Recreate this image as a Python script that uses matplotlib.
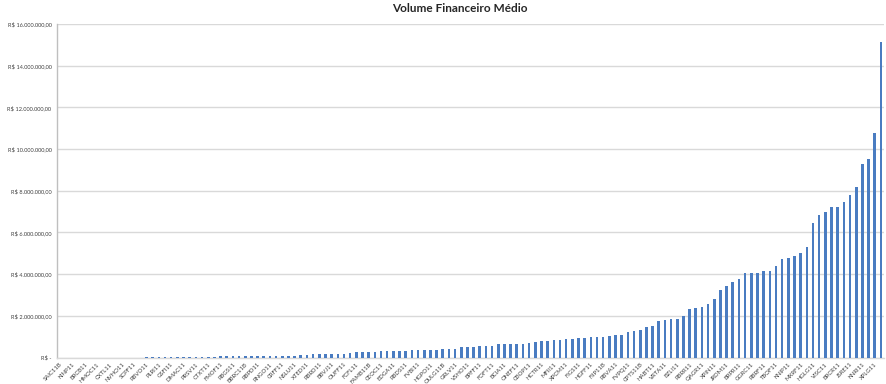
import matplotlib
matplotlib.use("Agg")
import matplotlib.pyplot as plt
from matplotlib.ticker import FuncFormatter, MultipleLocator
import numpy as np

# Visible (labelled) tickers, every second category
tickers_rotulados = [
    "SAIC11B", "KINP11", "BRCB11", "HMOC11", "CXTL11", "NVHO11", "SCPF11", "RBVO11",
    "PLRI11", "GSFI11", "DMAC11", "PRSV11", "CTXT11", "FMOF11", "RBGS11", "BBRC11B",
    "RBPD11", "RNGO11", "CRFF11", "NSLU11", "XTED11", "RBRD11", "BBVJ11", "OUFF11",
    "FCFL11", "FAMB11B", "CEOC11", "EDGA11", "RBDS11", "FVBI11", "HGPO11", "OULG11B",
    "GRLV11", "VSHO11", "BPFF11", "FOFT11", "BCIA11", "ONEF11", "CBOP11", "HCTR11",
    "MFII11", "XPCM11", "FIGS11", "HGFF11", "FIIP11B", "RBVA11", "FVPQ11", "CPTS11B",
    "HABT11", "VRTA11", "BZLI11", "RBRR11", "QAGR11", "XPIN11", "JRDM11", "BRPR11",
    "GGRC11", "RBRF11", "TBOF11", "KNIP11", "MXRF11", "HGLG11", "VISC11", "BRCR11",
    "JSRE11", "KNRI11", "XPLG11",
]
# Categories between them whose labels Excel skipped
tickers_ocultos = [
    "ABCP11", "AEFI11", "AFOF11", "AIEC11", "ALMI11", "ALZR11", "ARRI11", "ATSA11",
    "BARI11", "BBFI11B", "BBPO11", "BCFF11", "BCRI11", "BEES11", "BICR11", "BLMO11",
    "BMLC11", "BNFS11", "BPML11", "BRCO11", "BREV11", "BTAL11", "BTCR11", "BTLG11",
    "CARE11", "CNES11", "CPFF11", "CVBI11", "CXCE11B", "CXRI11", "DEVA11", "DOVL11",
    "EDFO11", "EURO11", "FEXC11", "FIIB11", "FINF11", "FIVN11", "FLMA11", "FLRP11",
    "FPAB11", "GALG11", "GCRA11", "GTWR11", "HBTT11", "HCRI11", "HFOF11", "HLOG11",
    "HOSI11", "HRDF11", "HSML11", "HTMX11", "IRDM11", "JPPA11", "KFOF11", "KNCR11",
    "KNHY11", "LVBI11", "MALL11", "MCCI11", "MGFF11", "NEWL11", "PATL11", "PORD11",
    "RBED11", "RBFF11", "RECR11",
]

# Average financial volume, in millions of R$
volume_milhoes = [
    0.000, 0.000, 0.000, 0.000, 0.000, 0.000, 0.000, 0.000, 0.000, 0.000,
    0.000, 0.000, 0.000, 0.000,
    0.025, 0.027, 0.029, 0.031, 0.033, 0.035, 0.037, 0.039, 0.041, 0.043,
    0.045, 0.047, 0.049, 0.051, 0.053, 0.055, 0.058, 0.061, 0.064, 0.067,
    0.070, 0.074, 0.078, 0.083, 0.090,
    0.10, 0.13, 0.16, 0.16, 0.16, 0.19, 0.19, 0.19, 0.22, 0.24,
    0.26, 0.27, 0.27, 0.29, 0.29, 0.30, 0.30, 0.32, 0.34, 0.34,
    0.35, 0.35, 0.38, 0.43, 0.43, 0.43, 0.48, 0.49, 0.49, 0.53,
    0.53, 0.57, 0.64, 0.64, 0.64, 0.67, 0.67, 0.69, 0.75, 0.80,
    0.80, 0.83,
    0.86, 0.88, 0.89, 0.93, 0.94, 0.96, 0.99, 0.99, 1.02, 1.10,
    1.10, 1.20, 1.28, 1.33, 1.45, 1.50, 1.75, 1.82, 1.85, 1.87,
    1.98, 2.35, 2.38, 2.40, 2.57, 2.80, 3.23, 3.44, 3.64, 3.76,
    4.04, 4.07, 4.07, 4.15, 4.15, 4.38, 4.71, 4.79, 4.89, 5.00,
    5.32, 6.43, 6.83, 7.00, 7.24, 7.24, 7.48, 7.79, 8.16, 9.30,
    9.54, 10.78, 15.13,
]

titulo = "Volume Financeiro Médio"

categorias = [t for par in zip(tickers_rotulados, tickers_ocultos) for t in par]
assert len(categorias) == len(volume_milhoes)

plt.rcParams['font.family'] = ['Lato', 'DejaVu Sans']

fig = plt.figure(figsize=(8.86, 3.84), dpi=100)
ax = fig.add_axes([57 / 886, 26.5 / 384, 827 / 886, (357.5 - 24) / 384])

x = np.arange(len(categorias))
ax.bar(x, volume_milhoes, width=0.42, color="#4a7cc1", edgecolor="none", zorder=3)

ax.set_xlim(-0.5, len(categorias) - 0.5)
ax.set_ylim(0, 16)
ax.yaxis.set_major_locator(MultipleLocator(2))


def fmt_reais(v, pos):
    if abs(v) < 1e-9:
        return "R$ -"
    s = f"{v * 1e6:,.2f}"
    s = s.replace(",", "X").replace(".", ",").replace("X", ".")
    return "R$ " + s


ax.yaxis.set_major_formatter(FuncFormatter(fmt_reais))
ax.grid(axis="y", color="#d9d9d9", linewidth=1.0, zorder=0)
ax.set_axisbelow(True)

for side in ["top", "right"]:
    ax.spines[side].set_visible(False)
ax.spines["left"].set_color("#bfbfbf")
ax.spines["bottom"].set_color("#d9d9d9")
ax.spines["left"].set_linewidth(1.0)
ax.spines["bottom"].set_linewidth(1.0)

ax.set_xticks(x[::2])
ax.set_xticklabels(categorias[::2], rotation=45, ha="right", rotation_mode="anchor",
                   fontsize=4.3, color="#404040")
ax.tick_params(axis="x", length=0, pad=3)
ax.tick_params(axis="y", length=0, pad=4, labelsize=4.1, labelcolor="#404040")

fig.text(460 / 886, 1 - 9 / 384, titulo, ha="center", va="center",
         fontsize=8.5, fontweight="bold", color="#262626")

fig.savefig("out.png", dpi=100)
